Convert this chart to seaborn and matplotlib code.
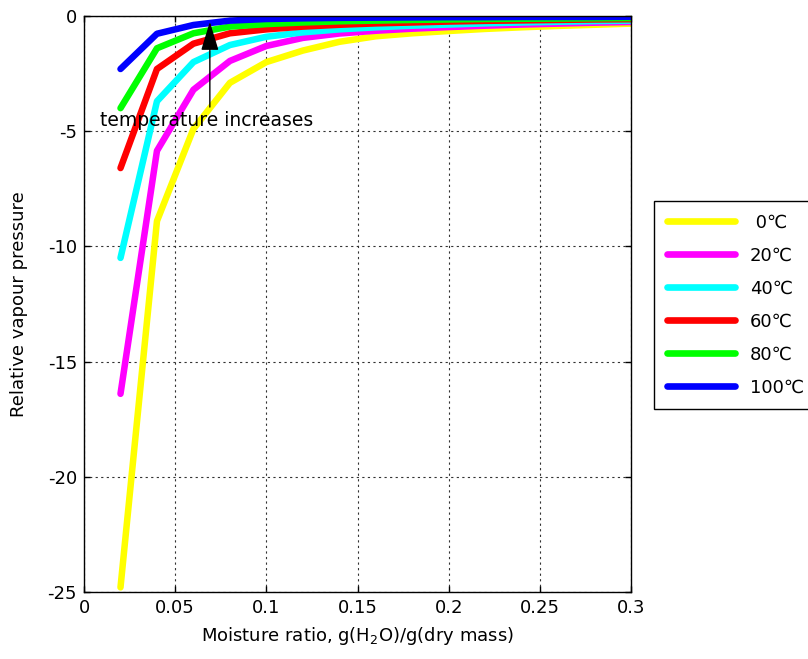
import numpy as np
import pandas as pd
import matplotlib
matplotlib.use("Agg")
import matplotlib.pyplot as plt
import seaborn as sns

moisture = [0.02, 0.04, 0.06, 0.08, 0.10, 0.12, 0.14, 0.16, 0.18, 0.20, 0.22, 0.24, 0.26, 0.28, 0.30]
labels = [" 0\u2103", "20\u2103", "40\u2103", "60\u2103", "80\u2103", "100\u2103"]
colors = ["#ffff00", "#ff00ff", "#00ffff", "#ff0000", "#00ff00", "#0000ff"]
t0 = [-24.8, -8.9, -4.9, -2.9, -2.0, -1.5, -1.12, -0.88, -0.75, -0.65, -0.56, -0.49, -0.43, -0.38, -0.33]
t20 = [-16.4, -5.85, -3.2, -1.95, -1.3, -0.95, -0.76, -0.64, -0.55, -0.48, -0.42, -0.37, -0.33, -0.29, -0.26]
t40 = [-10.5, -3.7, -2.0, -1.26, -0.9, -0.71, -0.58, -0.49, -0.42, -0.37, -0.32, -0.28, -0.25, -0.22, -0.2]
t60 = [-6.6, -2.3, -1.2, -0.75, -0.58, -0.46, -0.38, -0.32, -0.28, -0.24, -0.21, -0.19, -0.17, -0.15, -0.14]
t80 = [-4.0, -1.4, -0.75, -0.46, -0.35, -0.28, -0.23, -0.2, -0.17, -0.15, -0.13, -0.12, -0.11, -0.1, -0.09]
t100 = [-2.3, -0.77, -0.39, -0.2, -0.13, -0.1, -0.08, -0.07, -0.06, -0.05, -0.05, -0.04, -0.04, -0.04, -0.03]
series = [t0, t20, t40, t60, t80, t100]
xticks = [0, 0.05, 0.1, 0.15, 0.2, 0.25, 0.3]
xticklabels = ["0", "0.05", "0.1", "0.15", "0.2", "0.25", "0.3"]
yticks = [0, -5, -10, -15, -20, -25]

rows = []
for lab, vals in zip(labels, series):
    for x, y in zip(moisture, vals):
        rows.append({"x": x, "y": y, "T": lab})
df = pd.DataFrame(rows)

sns.set_style("ticks")
plt.rcParams["font.family"] = ["DejaVu Sans"]
plt.rcParams["mathtext.fontset"] = "dejavusans"
plt.rcParams["text.color"] = "black"
plt.rcParams["axes.labelcolor"] = "black"
plt.rcParams["xtick.color"] = "black"
plt.rcParams["ytick.color"] = "black"

FS = 13
fig = plt.figure(figsize=(8.08, 6.59), dpi=100)
ax = fig.add_axes([0.104, 0.1017, 0.677, 0.874])
sns.lineplot(data=df, x="x", y="y", hue="T", palette=dict(zip(labels, colors)),
             linewidth=4.7, ax=ax, legend=True)
ax.set_xlim(0, 0.3)
ax.set_ylim(-25, 0)
ax.set_xticks(xticks)
ax.set_xticklabels(xticklabels)
ax.set_yticks(yticks)
ax.set_yticklabels([str(v) for v in yticks])
ax.tick_params(direction="in", length=4, width=1, labelsize=FS, top=True, right=True,
               colors="black", labelcolor="black", pad=5)
ax.grid(True, linestyle=(0, (2, 3)), color="#333333", linewidth=0.8)
for s in ax.spines.values():
    s.set_color("black")
    s.set_linewidth(1.0)
ax.set_xlabel("Moisture ratio, g(H$_2$O)/g(dry mass)", fontsize=FS, labelpad=6, color="black")
ax.set_ylabel("Relative vapour pressure", fontsize=FS, labelpad=14, color="black")

ax.annotate("", xy=(0.069, -0.25), xytext=(0.069, -3.95),
            arrowprops=dict(arrowstyle="-|>,head_length=1.8,head_width=0.55",
                            color="black", lw=1, mutation_scale=10,
                            shrinkA=0, shrinkB=0))
ax.text(0.0085, -4.55, "temperature increases", fontsize=13.5, va="center", ha="left",
        color="black")

handles, labs = ax.get_legend_handles_labels()
leg = ax.legend(handles, labs, loc="upper left", bbox_to_anchor=(654 / 808, 1 - 201 / 659),
                bbox_transform=fig.transFigure, fontsize=FS, frameon=True, fancybox=False,
                edgecolor="black", handlelength=3.8, labelspacing=0.83, borderpad=0.7,
                handletextpad=0.8, borderaxespad=0, framealpha=1, labelcolor="black")
leg.get_frame().set_linewidth(1.0)
for line in leg.get_lines():
    line.set_linewidth(4.8)

fig.savefig("out.png", dpi=100)
